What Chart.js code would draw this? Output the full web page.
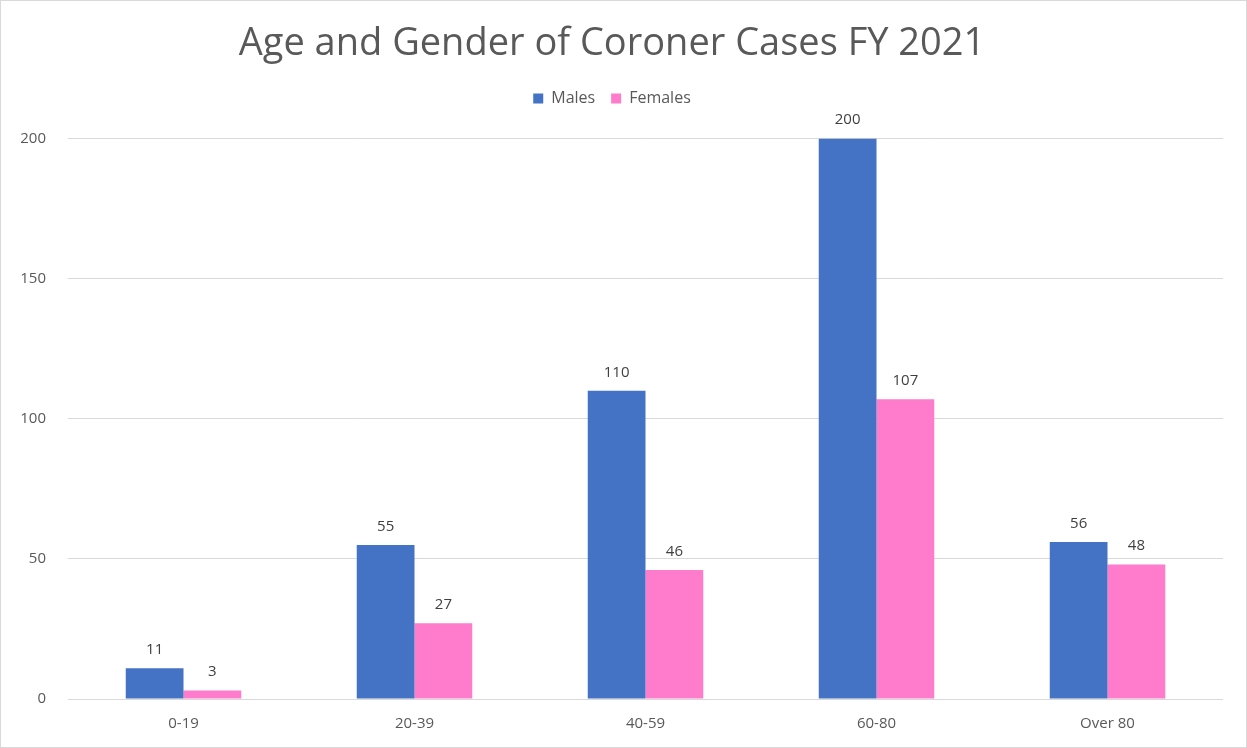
<!DOCTYPE html>
<html>
<head>
<meta charset="utf-8">
<script src="https://cdn.jsdelivr.net/npm/chart.js@4/dist/chart.umd.min.js"></script>
<style>
  html, body { margin: 0; padding: 0; background: #fff; }
  #wrap { position: relative; width: 1245px; height: 746px; border: 1px solid #d9d9d9; }
</style>
</head>
<body>
<div id="wrap"><canvas id="coronerChart"></canvas></div>
<script>
var ageGroups = ["0-19", "20-39", "40-59", "60-80", "Over 80"];
var males = [11, 55, 110, 200, 56];
var females = [3, 27, 46, 107, 48];
var yTicks = [0, 50, 100, 150, 200];

// draws the value above every bar
var barLabels = {
  id: 'barLabels',
  afterDatasetsDraw: function(chart) {
    var ctx = chart.ctx;
    ctx.save();
    ctx.font = '15px "Open Sans", sans-serif';
    ctx.fillStyle = '#404040';
    ctx.textAlign = 'center';
    ctx.textBaseline = 'bottom';
    chart.data.datasets.forEach(function(ds, i) {
      var meta = chart.getDatasetMeta(i);
      meta.data.forEach(function(bar, j) {
        ctx.fillText(ds.data[j], bar.x, bar.y - 11);
      });
    });
    ctx.restore();
  }
};

// a bit more room under the legend
var legendGap = {
  id: 'legendGap',
  beforeInit: function(chart) {
    var origFit = chart.legend.fit;
    chart.legend.fit = function() {
      origFit.bind(chart.legend)();
      this.height += 22;
    };
  }
};

var ctx = document.getElementById("coronerChart");
var coronerChart = new Chart(ctx, {
  type: 'bar',
  plugins: [barLabels, legendGap],
  data: {
    labels: ageGroups,
    datasets: [{
      label: 'Males',
      data: males,
      backgroundColor: '#4472C4'
    }, {
      label: 'Females',
      data: females,
      backgroundColor: '#FF7BCB'
    }]
  },
  options: {
    responsive: true,
    maintainAspectRatio: false,
    animation: false,
    layout: { padding: { left: 0, right: 23, top: 0, bottom: 0 } },
    datasets: { bar: { barPercentage: 1.0, categoryPercentage: 0.5 } },
    plugins: {
      title: {
        display: true,
        text: 'Age and Gender of Coroner Cases FY 2021',
        color: '#595959',
        font: { family: '"Open Sans", sans-serif', size: 38, weight: 'normal' },
        padding: { top: 20, bottom: 8 }
      },
      legend: {
        display: true,
        position: 'top',
        labels: {
          boxWidth: 10,
          boxHeight: 10,
          color: '#595959',
          font: { family: '"Open Sans", sans-serif', size: 16 },
          padding: 16
        }
      },
      tooltip: { enabled: false }
    },
    scales: {
      x: {
        grid: { display: false },
        border: { display: false },
        ticks: {
          color: '#595959',
          font: { family: '"Open Sans", sans-serif', size: 15 },
          padding: 8
        },
        afterFit: function(scale) { scale.height = 48; }
      },
      y: {
        min: 0,
        max: 200,
        afterBuildTicks: function(scale) {
          scale.ticks = yTicks.map(function(v) { return { value: v }; });
        },
        grid: { color: '#d9d9d9', drawTicks: false },
        border: { display: false },
        ticks: {
          color: '#595959',
          font: { family: '"Open Sans", sans-serif', size: 15 },
          padding: 22
        },
        afterFit: function(scale) { scale.width = 67; }
      }
    }
  }
});
</script>
</body>
</html>
